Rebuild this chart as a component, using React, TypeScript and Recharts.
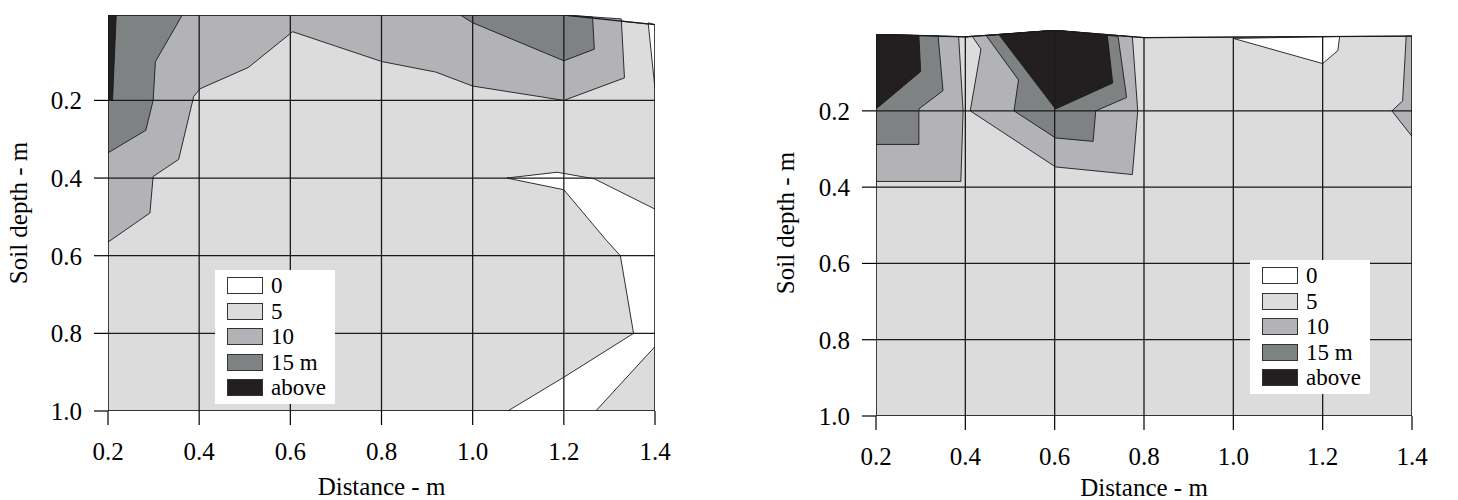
import React from "react";
import { ScatterChart, Scatter, XAxis, YAxis, Legend } from "recharts";

type P = { x: number; y: number };

const xTicks = [0.2, 0.4, 0.6, 0.8, 1.0, 1.2, 1.4];
const yTicks = [0.2, 0.4, 0.6, 0.8, 1.0];
const legendItems = ["0", "5", "10", "15 m", "above"];

const WHITE = "#ffffff";
const LIGHT = "#dcdcdc";
const MID = "#b3b3b7";
const DARK = "#7f8283";
const BLACK = "#231f20";
const legendColors = [WHITE, LIGHT, MID, DARK, BLACK];

// ---------- Left panel ----------
const leftTop: P[] = [
  { x: 0.2, y: -0.02 }, { x: 1.2, y: -0.02 }, { x: 1.4, y: 0.005 },
];
const leftBase: P[] = [
  { x: 0.2, y: -0.02 }, { x: 1.2, y: -0.02 }, { x: 1.4, y: 0.005 },
  { x: 1.4, y: 1.0 }, { x: 0.2, y: 1.0 },
];
const leftMid: P[] = [
  { x: 0.2, y: -0.02 }, { x: 1.2, y: -0.02 }, { x: 1.326, y: -0.01 },
  { x: 1.333, y: 0.142 }, { x: 1.2, y: 0.2 }, { x: 1.0, y: 0.163 },
  { x: 0.919, y: 0.127 }, { x: 0.801, y: 0.1 }, { x: 0.605, y: 0.023 },
  { x: 0.508, y: 0.115 }, { x: 0.402, y: 0.17 }, { x: 0.388, y: 0.19 },
  { x: 0.355, y: 0.352 }, { x: 0.299, y: 0.396 }, { x: 0.292, y: 0.49 },
  { x: 0.2, y: 0.565 },
];
const leftDark1: P[] = [
  { x: 0.2, y: -0.02 }, { x: 0.363, y: -0.02 }, { x: 0.304, y: 0.1 },
  { x: 0.299, y: 0.2 }, { x: 0.283, y: 0.277 }, { x: 0.2, y: 0.335 },
];
const leftDark2: P[] = [
  { x: 0.973, y: -0.02 }, { x: 1.2, y: -0.02 }, { x: 1.263, y: -0.015 },
  { x: 1.267, y: 0.068 }, { x: 1.2, y: 0.098 }, { x: 1.0, y: 0.0 },
];
const leftBlack: P[] = [
  { x: 0.2, y: -0.02 }, { x: 0.218, y: -0.02 }, { x: 0.21, y: 0.2 },
  { x: 0.2, y: 0.2 },
];
const leftWhite1: P[] = [
  { x: 1.385, y: 0.0 }, { x: 1.4, y: 0.005 }, { x: 1.4, y: 0.17 },
];
const leftWhite2: P[] = [
  { x: 1.075, y: 0.4 }, { x: 1.185, y: 0.385 }, { x: 1.267, y: 0.402 },
  { x: 1.4, y: 0.48 }, { x: 1.4, y: 0.834 }, { x: 1.27, y: 1.0 },
  { x: 1.077, y: 1.0 }, { x: 1.2, y: 0.913 }, { x: 1.353, y: 0.8 },
  { x: 1.324, y: 0.6 }, { x: 1.293, y: 0.56 }, { x: 1.2, y: 0.43 },
];

// ---------- Right panel ----------
const rightTop: P[] = [
  { x: 0.2, y: 0.0 }, { x: 0.4, y: 0.006 }, { x: 0.6, y: -0.011 },
  { x: 0.8, y: 0.008 }, { x: 1.4, y: 0.004 },
];
const rightBase: P[] = [
  { x: 0.2, y: 0.0 }, { x: 0.4, y: 0.006 }, { x: 0.6, y: -0.011 },
  { x: 0.8, y: 0.008 }, { x: 1.4, y: 0.004 }, { x: 1.4, y: 1.0 },
  { x: 0.2, y: 1.0 },
];
const rightMid1: P[] = [
  { x: 0.2, y: 0.0 }, { x: 0.385, y: 0.005 }, { x: 0.395, y: 0.2 },
  { x: 0.39, y: 0.385 }, { x: 0.2, y: 0.385 },
];
const rightDark1: P[] = [
  { x: 0.2, y: 0.0 }, { x: 0.339, y: 0.003 }, { x: 0.35, y: 0.147 },
  { x: 0.296, y: 0.195 }, { x: 0.296, y: 0.288 }, { x: 0.2, y: 0.288 },
];
const rightBlack1: P[] = [
  { x: 0.2, y: 0.0 }, { x: 0.296, y: 0.002 }, { x: 0.3, y: 0.097 },
  { x: 0.2, y: 0.195 },
];
const rightMid2: P[] = [
  { x: 0.415, y: 0.004 }, { x: 0.435, y: 0.038 }, { x: 0.411, y: 0.2 },
  { x: 0.602, y: 0.347 }, { x: 0.774, y: 0.367 }, { x: 0.786, y: 0.2 },
  { x: 0.774, y: 0.006 }, { x: 0.6, y: -0.011 }, { x: 0.4, y: 0.006 },
];
const rightDark2: P[] = [
  { x: 0.447, y: 0.003 }, { x: 0.519, y: 0.119 }, { x: 0.509, y: 0.2 },
  { x: 0.602, y: 0.271 }, { x: 0.686, y: 0.28 }, { x: 0.692, y: 0.2 },
  { x: 0.761, y: 0.165 }, { x: 0.742, y: 0.005 }, { x: 0.6, y: -0.011 },
];
const rightBlack2: P[] = [
  { x: 0.475, y: 0.0 }, { x: 0.6, y: -0.011 }, { x: 0.718, y: 0.003 },
  { x: 0.73, y: 0.127 }, { x: 0.602, y: 0.195 },
];
const rightWhite: P[] = [
  { x: 1.0, y: 0.01 }, { x: 1.2, y: 0.076 }, { x: 1.234, y: 0.042 },
  { x: 1.238, y: 0.005 },
];
const rightMid3: P[] = [
  { x: 1.387, y: 0.004 }, { x: 1.379, y: 0.174 }, { x: 1.355, y: 0.2 },
  { x: 1.4, y: 0.267 }, { x: 1.4, y: 0.004 },
];

type Layer = { pts: P[]; fill: string; closed: boolean };

const leftLayers: Layer[] = [
  { pts: leftBase, fill: LIGHT, closed: true },
  { pts: leftMid, fill: MID, closed: true },
  { pts: leftDark1, fill: DARK, closed: true },
  { pts: leftDark2, fill: DARK, closed: true },
  { pts: leftBlack, fill: BLACK, closed: true },
  { pts: leftWhite1, fill: WHITE, closed: true },
  { pts: leftWhite2, fill: WHITE, closed: true },
];
const rightLayers: Layer[] = [
  { pts: rightBase, fill: LIGHT, closed: true },
  { pts: rightMid1, fill: MID, closed: true },
  { pts: rightDark1, fill: DARK, closed: true },
  { pts: rightBlack1, fill: BLACK, closed: true },
  { pts: rightMid2, fill: MID, closed: true },
  { pts: rightDark2, fill: DARK, closed: true },
  { pts: rightBlack2, fill: BLACK, closed: true },
  { pts: rightWhite, fill: WHITE, closed: true },
  { pts: rightMid3, fill: MID, closed: true },
];

function gridLines(top: P[]): Layer[] {
  const out: Layer[] = [{ pts: top, fill: "none", closed: false }];
  for (const d of yTicks) {
    out.push({ pts: [{ x: 0.2, y: d }, { x: 1.4, y: d }], fill: "none", closed: false });
  }
  for (const x of xTicks) {
    const t = top.reduce((a, p) => (Math.abs(p.x - x) < Math.abs(a.x - x) ? p : a), top[0]);
    out.push({ pts: [{ x, y: t.y }, { x, y: 1.0 }], fill: "none", closed: false });
  }
  return out;
}

const renderPoly = (fill: string, closed: boolean) => (props: any) => {
  const pts = props.points || [];
  if (!pts.length) return <g />;
  const d =
    pts.map((p: any, i: number) => (i ? "L" : "M") + p.x + "," + p.y).join("") +
    (closed ? "Z" : "");
  return (
    <path
      d={d}
      fill={fill}
      stroke="#1a1a1a"
      strokeWidth={closed ? 0.9 : 1.3}
      strokeLinejoin="round"
    />
  );
};

const font = "'Liberation Serif', 'Times New Roman', serif";
const FS = 25;

const LegendBox = () => (
  <div
    style={{
      background: "#fff",
      padding: "3px 4px 3px 12px",
      fontFamily: font,
      fontSize: 23,
      lineHeight: "25.5px",
      width: 104,
    }}
  >
    {legendItems.map((l, i) => (
      <div key={l} style={{ display: "flex", alignItems: "center" }}>
        <span
          style={{
            display: "inline-block",
            width: 34,
            height: 15,
            background: legendColors[i],
            border: "1.3px solid #333",
            marginRight: 8,
          }}
        />
        <span>{l}</span>
      </div>
    ))}
  </div>
);

type PanelProps = {
  left: number;
  width: number;
  margin: { top: number; right: number; bottom: number; left: number };
  yWidth: number;
  yDomain: [number, number];
  layers: Layer[];
  top: P[];
  legendPos: { left: number; top: number };
  yLabelDx: number;
  xLabelOffset: number;
};

function Panel(p: PanelProps) {
  const all = [...p.layers, ...gridLines(p.top)];
  return (
    <div style={{ position: "absolute", left: p.left, top: 0 }}>
      <ScatterChart width={p.width} height={500} margin={p.margin}>
        <XAxis
          type="number"
          dataKey="x"
          domain={[0.2, 1.4]}
          ticks={xTicks}
          tickFormatter={(v: number) => v.toFixed(1)}
          allowDataOverflow
          axisLine={false}
          tickLine={{ stroke: "#000", strokeWidth: 1.2 }}
          tickSize={14}
          tickMargin={17}
          height={60}
          tick={{ fill: "#000", fontSize: FS, fontFamily: font }}
          label={{
            value: "Distance - m",
            position: "bottom",
            offset: p.xLabelOffset,
            style: { fill: "#000", fontSize: FS, fontFamily: font },
          }}
        />
        <YAxis
          type="number"
          dataKey="y"
          reversed
          domain={p.yDomain}
          ticks={yTicks}
          tickFormatter={(v: number) => v.toFixed(1)}
          allowDataOverflow
          axisLine={false}
          tickLine={{ stroke: "#000", strokeWidth: 1.2 }}
          tickSize={14}
          tickMargin={12}
          width={p.yWidth}
          tick={{ fill: "#000", fontSize: FS, fontFamily: font }}
          label={{
            value: "Soil depth - m",
            angle: -90,
            position: "center",
            dx: p.yLabelDx,
            style: { fill: "#000", fontSize: FS, fontFamily: font, textAnchor: "middle" },
          }}
        />
        {all.map((l, i) => (
          <Scatter
            key={i}
            data={l.pts}
            isAnimationActive={false}
            line={renderPoly(l.fill, l.closed)}
            lineType="joint"
            shape={() => <g />}
            legendType="none"
          />
        ))}
        <Legend
          layout="vertical"
          align="center"
          verticalAlign="middle"
          content={() => <LegendBox />}
          wrapperStyle={{ position: "absolute", left: p.legendPos.left, top: p.legendPos.top, width: 120 }}
        />
      </ScatterChart>
    </div>
  );
}

export default function App() {
  return (
    <div style={{ position: "absolute", left: 0, top: 0, width: 1458, height: 500, background: "#fff" }}>
      <Panel
        left={0}
        width={700}
        margin={{ top: 15, right: 45, bottom: 29, left: 0 }}
        yWidth={108}
        yDomain={[-0.02, 1.0]}
        layers={leftLayers}
        top={leftTop}
        legendPos={{ left: 215, top: 270 }}
        yLabelDx={-36}
        xLabelOffset={6}
      />
      <Panel
        left={730}
        width={728}
        margin={{ top: 30, right: 46, bottom: 24, left: 0 }}
        yWidth={146}
        yDomain={[-0.012, 1.0]}
        layers={rightLayers}
        top={rightTop}
        legendPos={{ left: 520, top: 260 }}
        yLabelDx={-18}
        xLabelOffset={2}
      />
    </div>
  );
}
